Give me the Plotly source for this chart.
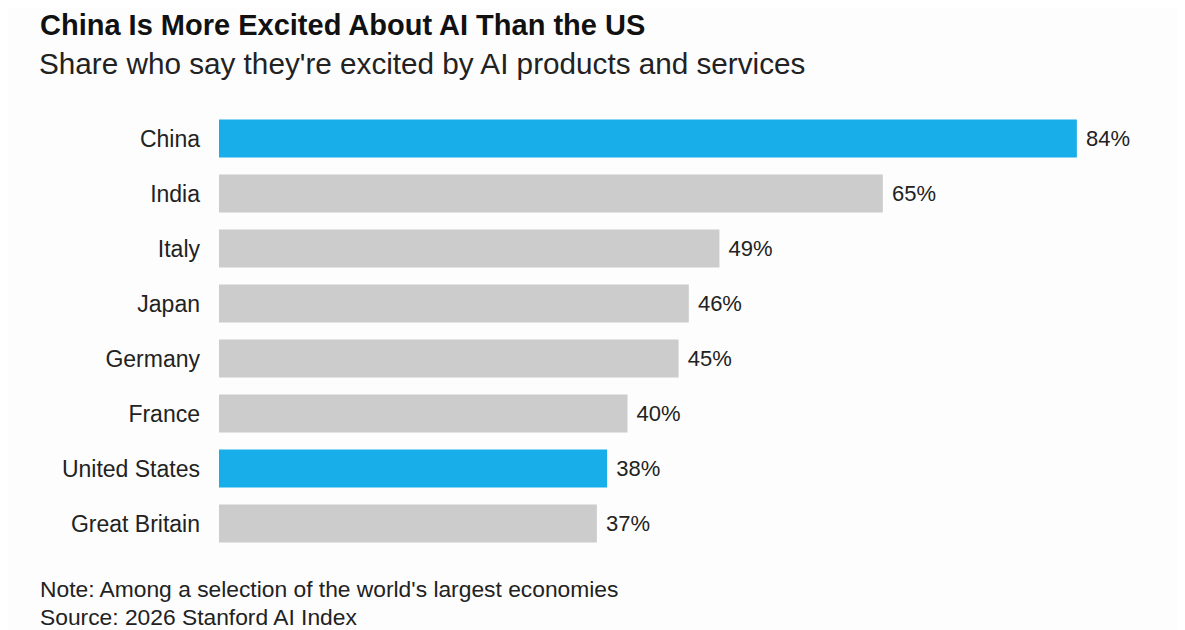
import plotly.graph_objects as go

countries = ["China", "India", "Italy", "Japan", "Germany", "France", "United States", "Great Britain"]
values = [84, 65, 49, 46, 45, 40, 38, 37]
highlight = ["China", "United States"]

title = "<b>China Is More Excited About AI Than the US</b>"
subtitle = "Share who say they're excited by AI products and services"
note = "Note: Among a selection of the world's largest economies"
source = "Source: 2026 Stanford AI Index"

BLUE = "#18aeea"
GRAY = "#cccccc"
FONT = "Liberation Sans, Arial, sans-serif"

colors = [BLUE if c in highlight else GRAY for c in countries]

# page body offset (browser default margin)
OFF = 8
W, H = 1185 - OFF, 630 - OFF

fig = go.Figure(go.Bar(
    x=values, y=countries, orientation="h",
    marker=dict(color=colors, line=dict(width=0)),
    width=0.69,
    text=[f" {v}%" for v in values],
    textposition="outside",
    textfont=dict(family=FONT, size=22, color="#222222"),
    cliponaxis=False,
))

L, T = 219 - OFF, 110.5 - OFF
PW, PH = 960, 441

def px(x):
    return (x - OFF - L) / PW

def py(y):
    return (T + PH - (y - OFF)) / PH

fig.update_layout(
    width=W, height=H,
    margin=dict(l=L, r=W - L - PW, t=T, b=H - T - PH),
    paper_bgcolor="#fdfdfd", plot_bgcolor="#fdfdfd",
    showlegend=False,
    xaxis=dict(range=[0, 94], visible=False, fixedrange=True),
    yaxis=dict(autorange="reversed", showgrid=False, zeroline=False, showline=False,
               ticks="", ticklabelstandoff=18,
               tickfont=dict(family=FONT, size=23, color="#222222")),
    font=dict(family=FONT),
    annotations=[
        dict(text=title, x=px(38), y=py(24), xref="paper", yref="paper", xanchor="left", yanchor="middle",
             showarrow=False, font=dict(family=FONT, size=29, color="#111111")),
        dict(text=subtitle, x=px(37), y=py(63), xref="paper", yref="paper", xanchor="left", yanchor="middle",
             showarrow=False, font=dict(family=FONT, size=29.7, color="#222222")),
        dict(text=note, x=px(38), y=py(590), xref="paper", yref="paper", xanchor="left", yanchor="middle",
             showarrow=False, font=dict(family=FONT, size=22.8, color="#222222")),
        dict(text=source, x=px(38), y=py(618), xref="paper", yref="paper", xanchor="left", yanchor="middle",
             showarrow=False, font=dict(family=FONT, size=22.8, color="#222222")),
    ],
)

fig.write_html("out.html")
